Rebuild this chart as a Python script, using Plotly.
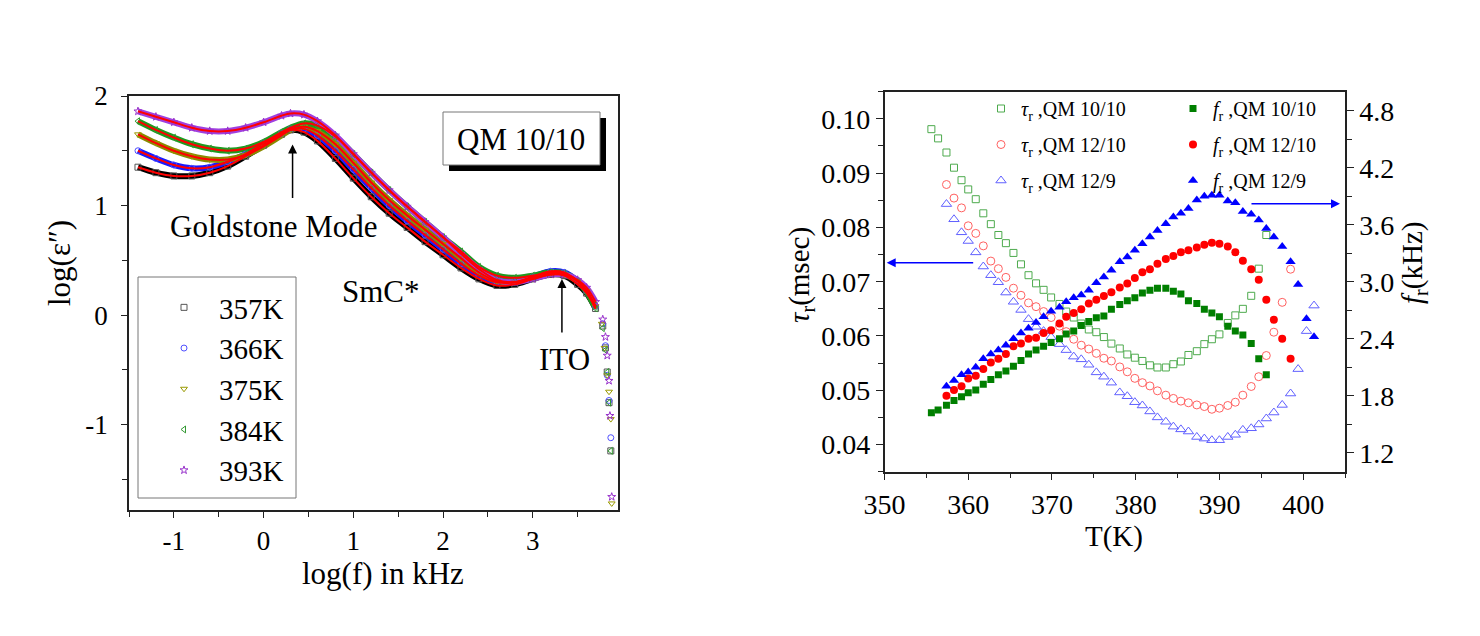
import plotly.graph_objects as go

W, H = 1480, 636
FONT = "Liberation Serif"
OFF = 8  # margine del body della pagina html

# =======================
# Pannello sinistro: log(eps'') contro log(f)
# =======================
LOGF = [-1.4, -1.2, -1.0, -0.8, -0.6, -0.4, -0.2, 0.0, 0.2, 0.3, 0.45, 0.6, 0.8, 1.0,
        1.2, 1.4, 1.6, 1.8, 2.0, 2.2, 2.4, 2.6, 2.8, 3.0, 3.2, 3.35, 3.5, 3.6, 3.7]

EPS_357 = [1.35, 1.30, 1.27, 1.27, 1.30, 1.36, 1.45, 1.55, 1.65, 1.69, 1.67, 1.59, 1.43, 1.25,
           1.08, 0.93, 0.80, 0.67, 0.55, 0.43, 0.33, 0.27, 0.28, 0.33, 0.37, 0.36, 0.28, 0.20, 0.06]
EPS_366 = [1.50, 1.43, 1.37, 1.34, 1.35, 1.40, 1.47, 1.57, 1.66, 1.70, 1.70, 1.64, 1.50, 1.33,
           1.16, 1.00, 0.86, 0.73, 0.60, 0.47, 0.36, 0.30, 0.30, 0.35, 0.40, 0.39, 0.31, 0.22, 0.08]
EPS_375 = [1.65, 1.57, 1.50, 1.45, 1.42, 1.42, 1.46, 1.54, 1.64, 1.69, 1.72, 1.68, 1.56, 1.39,
           1.21, 1.05, 0.91, 0.78, 0.65, 0.52, 0.39, 0.31, 0.30, 0.34, 0.38, 0.37, 0.31, 0.22, 0.08]
EPS_384 = [1.77, 1.69, 1.62, 1.56, 1.52, 1.50, 1.52, 1.58, 1.67, 1.71, 1.75, 1.73, 1.63, 1.47,
           1.30, 1.14, 0.99, 0.85, 0.71, 0.58, 0.44, 0.36, 0.34, 0.36, 0.39, 0.38, 0.31, 0.21, 0.06]
EPS_393 = [1.86, 1.81, 1.76, 1.71, 1.68, 1.68, 1.71, 1.76, 1.82, 1.84, 1.83, 1.77, 1.64, 1.47,
           1.30, 1.14, 0.99, 0.85, 0.71, 0.56, 0.42, 0.32, 0.30, 0.33, 0.37, 0.37, 0.32, 0.25, 0.12]

# coda ad alta frequenza (punti sparsi)
TAIL_F_357 = [3.78, 3.81, 3.83, 3.85, 3.87]
TAIL_E_357 = [-0.10, -0.30, -0.52, -0.80, -1.24]
TAIL_F_366 = [3.78, 3.81, 3.83, 3.85, 3.87]
TAIL_E_366 = [-0.08, -0.28, -0.55, -0.78, -1.12]
TAIL_F_375 = [3.77, 3.80, 3.83, 3.85, 3.87, 3.88]
TAIL_E_375 = [-0.08, -0.30, -0.55, -0.70, -0.95, -1.72]
TAIL_F_384 = [3.78, 3.81, 3.83, 3.85, 3.87]
TAIL_E_384 = [-0.12, -0.32, -0.52, -0.80, -1.24]
TAIL_F_393 = [3.78, 3.81, 3.83, 3.85, 3.86, 3.88]
TAIL_E_393 = [-0.04, -0.20, -0.37, -0.60, -0.92, -1.66]

# =======================
# Pannello destro: tau_r e f_r contro T
# =======================
T_1010 = [355.6, 356.4, 357.4, 358.3, 359.2, 360.0, 360.9, 361.8, 362.7, 363.6, 364.5, 365.4,
          366.3, 367.2, 368.1, 369.0, 369.9, 370.9, 371.7, 372.6, 373.5, 374.4, 375.3, 376.2,
          377.1, 378.1, 379.0, 379.9, 380.8, 381.7, 382.6, 383.6, 384.5, 385.4, 386.3, 387.3,
          388.2, 389.1, 390.0, 391.0, 391.9, 392.8, 393.8, 394.7, 395.6]
TAU_1010 = [0.0981, 0.0964, 0.0938, 0.0910, 0.0887, 0.0870, 0.0852, 0.0826, 0.0806, 0.0786,
            0.0771, 0.0753, 0.0732, 0.0712, 0.0697, 0.0685, 0.0671, 0.0659, 0.0645, 0.0634,
            0.0623, 0.0612, 0.0607, 0.0598, 0.0586, 0.0577, 0.0566, 0.0560, 0.0554, 0.0546,
            0.0542, 0.0542, 0.0548, 0.0553, 0.0565, 0.0572, 0.0585, 0.0594, 0.0603, 0.0624,
            0.0638, 0.0650, 0.0674, 0.0724, 0.0786]
F_1010 = [1.62, 1.65, 1.70, 1.75, 1.79, 1.83, 1.86, 1.92, 1.97, 2.02, 2.06, 2.11, 2.17, 2.24,
          2.28, 2.32, 2.36, 2.40, 2.45, 2.48, 2.54, 2.58, 2.62, 2.64, 2.71, 2.76, 2.80, 2.83,
          2.88, 2.91, 2.93, 2.93, 2.90, 2.87, 2.80, 2.77, 2.71, 2.67, 2.63, 2.53, 2.48, 2.44,
          2.35, 2.19, 2.02]

T_1210 = [357.4, 358.3, 359.2, 360.0, 360.9, 361.8, 362.7, 363.6, 364.5, 365.4, 366.3, 367.2,
          368.1, 369.0, 369.9, 370.9, 371.7, 372.6, 373.5, 374.4, 375.3, 376.2, 377.1, 378.1,
          379.0, 379.9, 380.8, 381.7, 382.6, 383.6, 384.5, 385.4, 386.3, 387.3, 388.2, 389.1,
          390.0, 391.0, 391.9, 392.8, 393.8, 394.7, 395.6, 396.5, 397.5, 398.5]
TAU_1210 = [0.0879, 0.0854, 0.0836, 0.0803, 0.0789, 0.0766, 0.0738, 0.0724, 0.0708, 0.0688,
            0.0675, 0.0661, 0.0654, 0.0645, 0.0634, 0.0618, 0.0608, 0.0594, 0.0583, 0.0576,
            0.0568, 0.0559, 0.0554, 0.0543, 0.0534, 0.0522, 0.0514, 0.0508, 0.0499, 0.0491,
            0.0485, 0.0480, 0.0477, 0.0473, 0.0470, 0.0465, 0.0467, 0.0472, 0.0478, 0.0491,
            0.0507, 0.0525, 0.0564, 0.0607, 0.0662, 0.0723]
F_1210 = [1.80, 1.86, 1.90, 1.98, 2.01, 2.08, 2.15, 2.19, 2.24, 2.32, 2.35, 2.40, 2.41, 2.46,
          2.49, 2.56, 2.63, 2.67, 2.71, 2.77, 2.81, 2.85, 2.89, 2.94, 2.98, 3.04, 3.10, 3.13,
          3.19, 3.24, 3.27, 3.31, 3.33, 3.36, 3.39, 3.41, 3.40, 3.37, 3.31, 3.22, 3.13, 3.02,
          2.81, 2.60, 2.40, 2.19]

T_129 = [357.4, 358.3, 359.2, 360.0, 360.9, 361.8, 362.7, 363.6, 364.5, 365.4, 366.3, 367.2,
         368.1, 369.0, 369.9, 370.9, 371.7, 372.6, 373.5, 374.4, 375.3, 376.2, 377.1, 378.1,
         379.0, 379.9, 380.8, 381.7, 382.6, 383.6, 384.5, 385.4, 386.3, 387.3, 388.2, 389.1,
         390.0, 391.0, 391.9, 392.8, 393.8, 394.7, 395.6, 396.5, 397.5, 398.5, 399.4, 400.4, 401.3]
TAU_129 = [0.0843, 0.0815, 0.0791, 0.0775, 0.0754, 0.0728, 0.0712, 0.0699, 0.0680, 0.0663,
           0.0648, 0.0631, 0.0617, 0.0609, 0.0598, 0.0585, 0.0574, 0.0562, 0.0557, 0.0547,
           0.0533, 0.0525, 0.0514, 0.0496, 0.0489, 0.0478, 0.0472, 0.0461, 0.0450, 0.0442,
           0.0433, 0.0428, 0.0424, 0.0414, 0.0411, 0.0408, 0.0408, 0.0414, 0.0418, 0.0427,
           0.0430, 0.0437, 0.0448, 0.0459, 0.0473, 0.0494, 0.0539, 0.0609, 0.0656]
F_129 = [1.90, 1.96, 2.02, 2.05, 2.10, 2.19, 2.24, 2.28, 2.33, 2.40, 2.46, 2.51, 2.57, 2.63,
         2.69, 2.73, 2.79, 2.83, 2.86, 2.91, 2.99, 3.05, 3.12, 3.21, 3.26, 3.33, 3.40, 3.47,
         3.54, 3.61, 3.68, 3.72, 3.77, 3.86, 3.90, 3.91, 3.91, 3.85, 3.83, 3.74, 3.71, 3.65,
         3.56, 3.47, 3.37, 3.21, 2.97, 2.61, 2.42]


def px(x):
    """pixel orizzontale della pagina -> coordinata paper"""
    return (x - OFF) / W


def py(y):
    """pixel verticale della pagina (dall'alto) -> coordinata paper"""
    return 1 - (y - OFF) / H


fig = go.Figure()

curves = [
    ("357K", EPS_357, TAIL_F_357, TAIL_E_357, "#000000", "#555555", "square-open"),
    ("366K", EPS_366, TAIL_F_366, TAIL_E_366, "#1a1aff", "#5050ff", "circle-open"),
    ("375K", EPS_375, TAIL_F_375, TAIL_E_375, "#8a8a00", "#999900", "triangle-down-open"),
    ("384K", EPS_384, TAIL_F_384, TAIL_E_384, "#1f9a1f", "#339933", "triangle-left-open"),
    ("393K", EPS_393, TAIL_F_393, TAIL_E_393, "#a040e0", "#9933cc", "star-open"),
]

# bande di dati (punti fittissimi -> linea spessa)
for name, eps, tf, te, col, mcol, sym in curves:
    fig.add_trace(go.Scatter(x=LOGF, y=eps, mode="lines", line=dict(color=col, width=6, shape="spline"),
                             showlegend=False, hoverinfo="skip", xaxis="x", yaxis="y"))
for name, eps, tf, te, col, mcol, sym in curves:
    fig.add_trace(go.Scatter(x=LOGF + tf, y=eps + te, mode="markers", name=name,
                             marker=dict(symbol=sym, size=6, color=mcol, line=dict(width=1, color=mcol)),
                             legend="legend", xaxis="x", yaxis="y"))
# fit in rosso
for name, eps, tf, te, col, mcol, sym in curves:
    fig.add_trace(go.Scatter(x=LOGF, y=eps, mode="lines", line=dict(color="#ff0000", width=2, shape="spline"),
                             showlegend=False, hoverinfo="skip", xaxis="x", yaxis="y"))

TAU_LAB = "<i>τ</i><sub>r</sub> ,QM "
F_LAB = "<i>f</i><sub>r</sub> ,QM "

open_series = [
    (T_1010, TAU_1010, "10/10", "square-open", "#4daa4d", 7),
    (T_1210, TAU_1210, "12/10", "circle-open", "#ff6060", 8),
    (T_129, TAU_129, "12/9", "triangle-up-open", "#6060ff", 9),
]
for t, tau, lab, sym, col, sz in open_series:
    fig.add_trace(go.Scatter(x=t, y=tau, mode="markers", name=TAU_LAB + lab,
                             marker=dict(symbol=sym, size=sz, color=col, line=dict(width=1, color=col)),
                             legend="legend2", legendgroup="tau" + lab, xaxis="x2", yaxis="y2"))

fill_series = [
    (T_1010, F_1010, "10/10", "square", "#007f00", 7),
    (T_1210, F_1210, "12/10", "circle", "#ff0000", 8),
    (T_129, F_129, "12/9", "triangle-up", "#0000ff", 9),
]
for t, f, lab, sym, col, sz in fill_series:
    fig.add_trace(go.Scatter(x=t, y=f, mode="markers", name=F_LAB + lab,
                             marker=dict(symbol=sym, size=sz, color=col),
                             legend="legend3", legendgroup="f" + lab, xaxis="x2", yaxis="y3"))

AX = dict(showgrid=False, zeroline=False, showline=True, linecolor="#222222", linewidth=1.5,
          ticks="outside", tickcolor="#222222", tickwidth=1.2, automargin=False,
          tickfont=dict(family=FONT, size=27, color="black"))

fig.update_layout(
    width=W, height=H, autosize=False,
    margin=dict(l=0, r=0, t=0, b=0, autoexpand=False),
    paper_bgcolor="white", plot_bgcolor="white",
    font=dict(family=FONT, color="black"),
    xaxis=dict(AX, domain=[px(129), px(618)], range=[-1.5, 3.95], anchor="y", mirror=True,
               tickvals=[-1, 0, 1, 2, 3], ticktext=["-1", "0", "1", "2", "3"], ticklen=6,
               minor=dict(tickvals=[-1.5, -0.5, 0.5, 1.5, 2.5, 3.5], ticks="outside", ticklen=5,
                          tickcolor="#222222")),
    yaxis=dict(AX, domain=[py(510), py(96)], range=[-1.78, 2.0], anchor="x", mirror=True,
               tickvals=[-1, 0, 1, 2], ticktext=["-1", "0", "1", "2"], ticklen=6, ticklabelstandoff=8,
               minor=dict(tickvals=[-1.5, -0.5, 0.5, 1.5], ticks="outside", ticklen=5,
                          tickcolor="#222222")),
    xaxis2=dict(AX, domain=[px(884.5), px(1345)], range=[350, 405], anchor="y2", mirror=True,
                tick0=350, dtick=10, ticklen=7, tickfont=dict(family=FONT, size=28, color="black"),
                minor=dict(dtick=5, ticks="outside", ticklen=5, tickcolor="#222222")),
    xaxis3=dict(overlaying="x2", side="top", range=[350, 405], anchor="y2", showgrid=False,
                zeroline=False, showline=False, showticklabels=False, ticks="inside", automargin=False,
                tick0=350, dtick=5, ticklen=5, tickcolor="#222222"),
    yaxis2=dict(AX, domain=[py(471.7), py(91.7)], range=[0.035, 0.105], anchor="x2",
                tick0=0.04, dtick=0.01, tickformat=".2f", ticklen=7,
                tickfont=dict(family=FONT, size=28, color="black"),
                minor=dict(dtick=0.005, ticks="outside", ticklen=5, tickcolor="#222222")),
    yaxis3=dict(AX, overlaying="y2", side="right", range=[1.0, 5.0], anchor="x2",
                tick0=1.2, dtick=0.6, tickformat=".1f", ticklen=7,
                tickfont=dict(family=FONT, size=28, color="black"),
                minor=dict(dtick=0.3, ticks="outside", ticklen=5, tickcolor="#222222")),
    legend=dict(x=px(149), y=py(282), xanchor="left", yanchor="top", bgcolor="rgba(0,0,0,0)",
                borderwidth=0, itemwidth=60, font=dict(family=FONT, size=29, color="black")),
    legend2=dict(x=px(981), y=py(89), xanchor="left", yanchor="top", bgcolor="rgba(0,0,0,0)",
                 borderwidth=0, tracegroupgap=7, font=dict(family=FONT, size=20, color="black")),
    legend3=dict(x=px(1173), y=py(89), xanchor="left", yanchor="top", bgcolor="rgba(0,0,0,0)",
                 borderwidth=0, tracegroupgap=7, font=dict(family=FONT, size=20, color="black")),
)

# riquadri: legenda sinistra e etichetta con ombra
fig.add_shape(type="rect", xref="paper", yref="paper", x0=px(138), x1=px(296), y0=py(498), y1=py(277),
              line=dict(color="#777777", width=1), layer="below")
fig.add_shape(type="rect", xref="paper", yref="paper", x0=px(449), x1=px(606), y0=py(171), y1=py(118),
              line=dict(color="black", width=0), fillcolor="black")
fig.add_shape(type="rect", xref="paper", yref="paper", x0=px(443), x1=px(600), y0=py(165), y1=py(112),
              line=dict(color="#777777", width=1), fillcolor="white")

notes = [
    dict(text="QM 10/10", x=px(521), y=py(139), size=31),
    dict(text="Goldstone Mode", x=px(274), y=py(226), size=31),
    dict(text="SmC*", x=px(381), y=py(291), size=31),
    dict(text="ITO", x=px(564), y=py(359), size=31),
    dict(text="log(f) in kHz", x=px(383), y=py(573), size=31),
    dict(text="T(K)", x=px(1114), y=py(536), size=29),
]
for n in notes:
    fig.add_annotation(text=n["text"], x=n["x"], y=n["y"], xref="paper", yref="paper", showarrow=False,
                       xanchor="center", yanchor="middle", font=dict(family=FONT, size=n["size"], color="black"))

titles_v = [
    ("log(ε″)", 60, 263, 31),
    ("<i>τ</i><sub>r</sub>(msec)", 801, 275, 29),
    ("<i>f</i><sub>r</sub>(kHz)", 1414, 263, 29),
]
for txt, x, y, s in titles_v:
    fig.add_annotation(text=txt, x=px(x), y=py(y), xref="paper", yref="paper", showarrow=False,
                       textangle=-90, xanchor="center", yanchor="middle",
                       font=dict(family=FONT, size=s, color="black"))

# frecce
fig.add_annotation(text="", x=0.323, y=1.557, xref="x", yref="y", ax=0, ay=55, showarrow=True,
                   arrowhead=2, arrowsize=1.2, arrowwidth=1.5, arrowcolor="black")
fig.add_annotation(text="", x=3.325, y=0.328, xref="x", yref="y", ax=0, ay=55, showarrow=True,
                   arrowhead=2, arrowsize=1.2, arrowwidth=1.5, arrowcolor="black")
fig.add_annotation(text="", x=350.26, y=0.0735, xref="x2", yref="y2", ax=88, ay=0, showarrow=True,
                   arrowhead=2, arrowsize=1.2, arrowwidth=1.5, arrowcolor="#0000ff")
fig.add_annotation(text="", x=404.4, y=3.82, xref="x2", yref="y3", ax=-90, ay=0, showarrow=True,
                   arrowhead=2, arrowsize=1.2, arrowwidth=1.5, arrowcolor="#0000ff")

fig.write_html("out.html")
